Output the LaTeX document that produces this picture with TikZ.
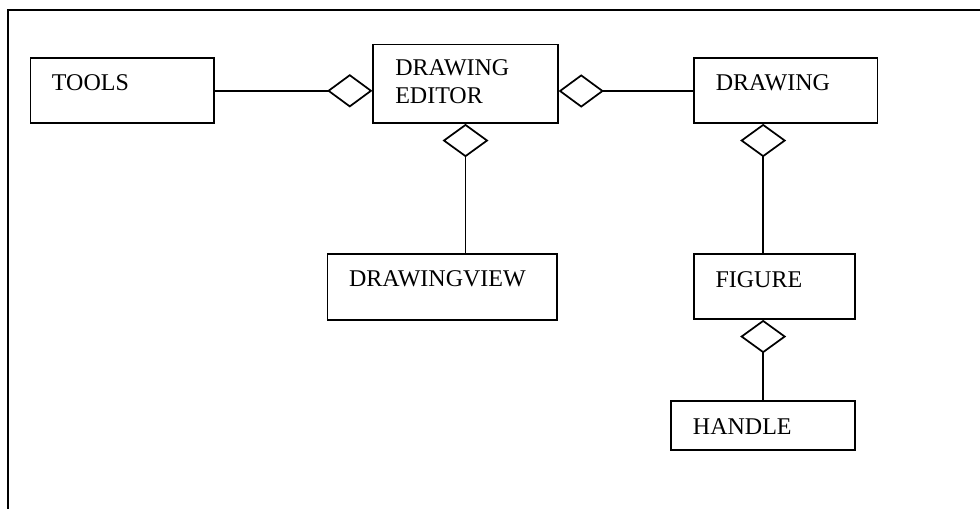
\documentclass[tikz,border=0pt]{standalone}
\usepackage{fontspec}
\setmainfont{Liberation Serif}
\usetikzlibrary{arrows.meta}
\begin{document}
\begin{tikzpicture}[x=0.75pt,y=-0.75pt,
  classbox/.style={draw, line width=1.3pt, inner sep=0pt},
  classname/.style={anchor=base west, inner sep=0pt, font=\fontsize{18pt}{21pt}\selectfont},
  aggH/.style={line width=1.3pt, line join=miter,
    -{Diamond[open, length=34pt, width=25pt, line width=1.3pt]}},
  aggV/.style={line width=1.3pt, line join=miter,
    -{Diamond[open, length=25pt, width=34.5pt, line width=1.3pt]}}]
  \useasboundingbox (0,0) rectangle (980,509);
  % outer frame, running past the right and bottom page edges
  \draw[line width=1.6pt] (7.7,520) -- (7.7,10) -- (1000,10);

  % classes
  \node[classbox, minimum width={183.2*0.75pt}, minimum height={65*0.75pt}]   (tools)   at (122.1,90.5)  {};
  \node[classbox, minimum width={184.4*0.75pt}, minimum height={78.5*0.75pt}] (editor)  at (465.5,83.75) {};
  \node[classbox, minimum width={183.5*0.75pt}, minimum height={65.3*0.75pt}] (drawing) at (785.75,90.35){};
  \node[classbox, minimum width={229.5*0.75pt}, minimum height={66*0.75pt}]   (view)    at (442.25,287)  {};
  \node[classbox, minimum width={160.4*0.75pt}, minimum height={65.3*0.75pt}] (figure)  at (774.5,286.35){};
  \node[classbox, minimum width={183.7*0.75pt}, minimum height={49*0.75pt}]   (handle)  at (763.15,425.5){};

  % class names
  \node[classname] (toolsT)   at (51.7,91)    {TOOLS};
  \node[classname] (editorT1) at (395,76)     {DRAWING};
  \node[classname] (editorT2) at (395,104)    {EDITOR};
  \node[classname] (drawingT) at (715.6,90.7) {DRAWING};
  \node[classname] (viewT)    at (348.8,286.7){DRAWINGVIEW};
  \node[classname] (figureT)  at (715.3,287.3){FIGURE};
  \node[classname] (handleT)  at (692.7,434)  {HANDLE};

  % aggregations (diamond on the whole side)
  \coordinate (toolsLink) at (213.7,90.8);
  \draw[aggH] (tools.east |- toolsLink) -- (editor.west |- toolsLink);
  \coordinate (drawingLink) at (694,91);
  \draw[aggH] (drawing.west |- drawingLink) -- (editor.east |- drawingLink);
  \draw[aggV] (editor.south |- view.north) -- (editor.south);
  \draw[aggV] (handle.north |- figure.north) -- (handle.north |- drawing.south);
  \draw[aggV] (handle.north) -- (handle.north |- figure.south);
\end{tikzpicture}
\end{document}
